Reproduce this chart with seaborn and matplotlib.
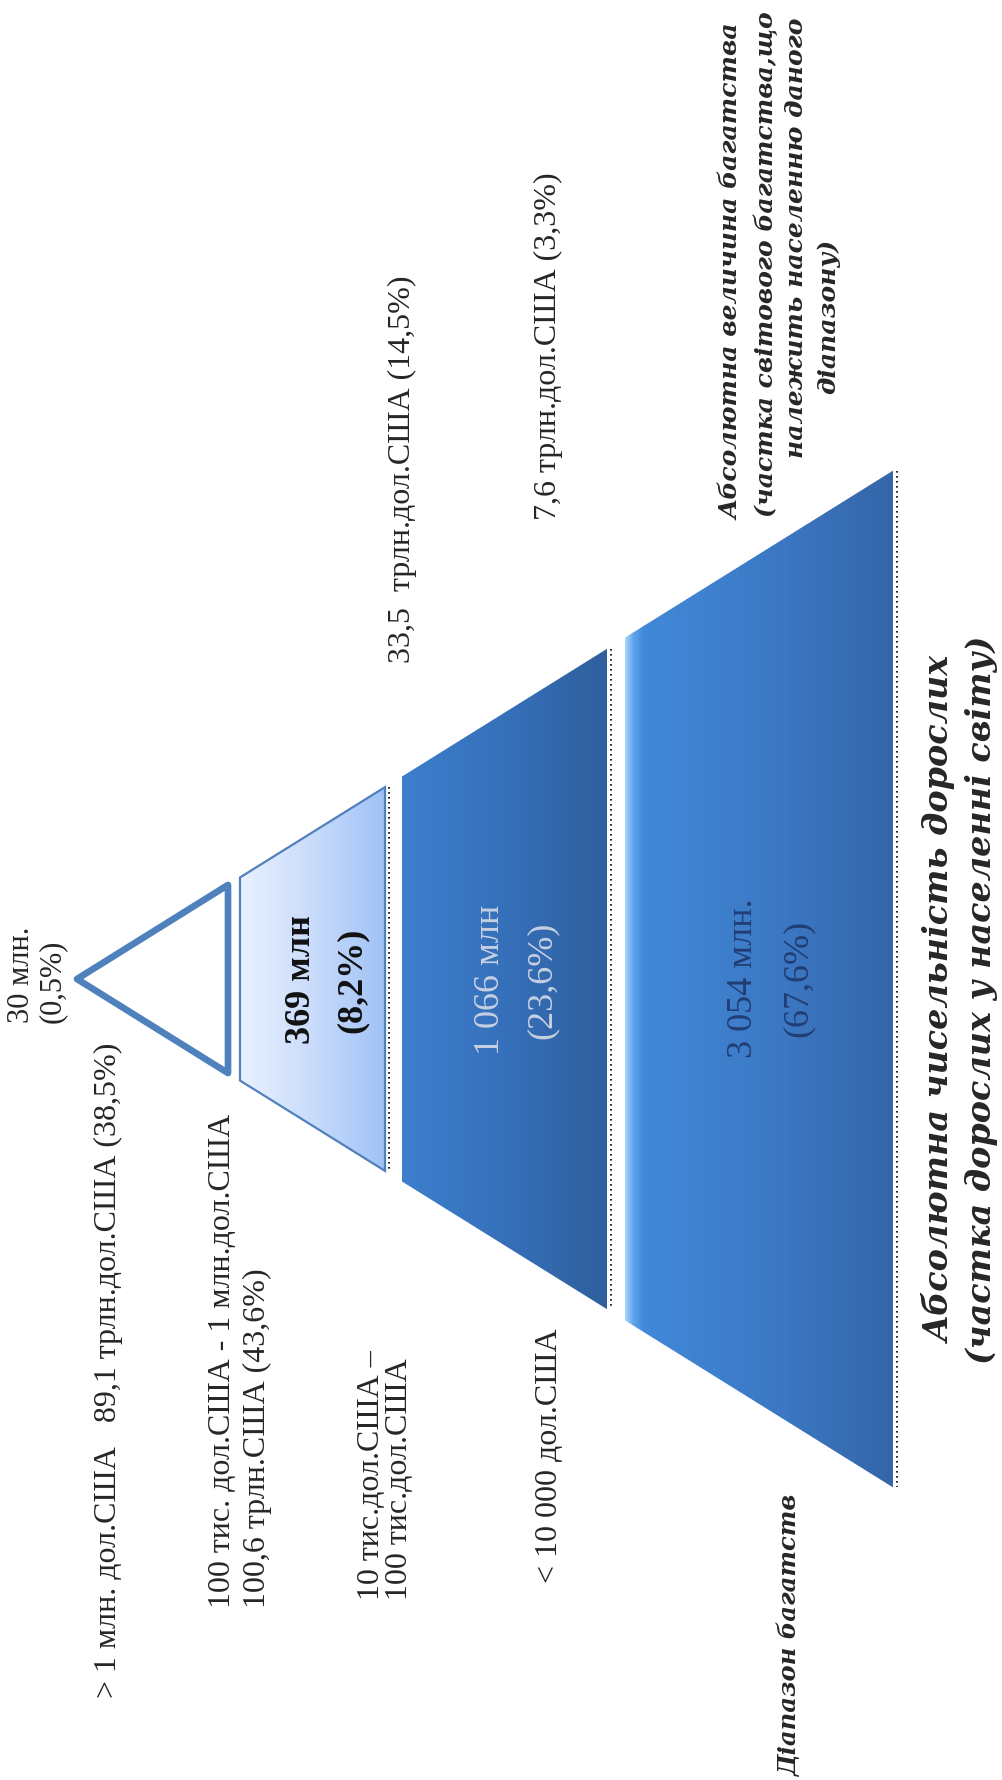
import numpy as np
import matplotlib
matplotlib.use("Agg")
import matplotlib.pyplot as plt
from matplotlib.patches import Polygon
from matplotlib.colors import LinearSegmentedColormap
import seaborn as sns

# ---------------- data ----------------
wealth_bands = ["> 1 млн. дол.США",
                "100 тис. дол.США - 1 млн.дол.США",
                "10 тис.дол.США –\n100 тис.дол.США",
                "< 10 000 дол.США"]
adults_mln = [30, 369, 1066, 3054]
adults_unit = ["млн.", "млн", "млн", "млн."]
adults_share = [0.5, 8.2, 23.6, 67.6]
wealth_trln = [89.1, 100.6, 33.5, 7.6]
wealth_unit = ["трлн.дол.США", "трлн.США", "трлн.дол.США", "трлн.дол.США"]
wealth_share = [38.5, 43.6, 14.5, 3.3]

wealth_title = ["Абсолютна величина багатства",
                "(частка світового багатства,що",
                "належить населенню даного",
                "діапазону)"]
adults_title = ["Абсолютна чисельність дорослих",
                "(частка дорослих у населенні світу)"]
band_title = "Діапазон багатств"


def dec(v):
    return f"{v:.1f}".replace(".", ",")


def num(n):
    return f"{n:,}".replace(",", " ")


adult_lbl = [f"{num(n)} {u}" for n, u in zip(adults_mln, adults_unit)]
adult_pct = [f"({dec(s)}%)" for s in adults_share]
wealth_lbl = [f"{dec(w)} {u} ({dec(s)}%)" for w, u, s in zip(wealth_trln, wealth_unit, wealth_share)]

# ---------------- style / layout ----------------
sns.set_theme(style="white")
plt.rcParams["font.family"] = ["Liberation Serif", "DejaVu Serif"]

W, H = 1003, 1781
fig = plt.figure(figsize=(W / 100, H / 100), dpi=100)
ax = fig.add_axes([0, 0, 1, 1])
ax.set_facecolor("white")

apex_x, center_y, slope = 77, 980, 0.623
tier_x = [(77, 228), (240, 385), (402, 607), (625, 893)]

edge_col = "#4f81bd"
cmaps = [
    None,
    sns.blend_palette(["#eaf1ff", "#c9dcfb", "#a0c2f6"], as_cmap=True),
    sns.blend_palette(["#3d7fce", "#3670ba", "#2f5f9d"], as_cmap=True),
    LinearSegmentedColormap.from_list(
        "t4", [(0.0, "#a9d4fb"), (0.03, "#5ea3ea"), (0.07, "#4189d9"),
               (0.6, "#3b77c2"), (1.0, "#3466a9")]),
]


def verts_for(x0, x1):
    h0 = slope * (x0 - apex_x)
    h1 = slope * (x1 - apex_x)
    return [(x0, center_y - h0), (x1, center_y - h1),
            (x1, center_y + h1), (x0, center_y + h0)]


for i, (x0, x1) in enumerate(tier_x):
    v = verts_for(x0, x1)
    if i == 0:
        tri = [v[0], v[1], v[2]]
        ax.add_patch(Polygon(tri, closed=True, facecolor="white",
                             edgecolor=edge_col, lw=4.8, joinstyle="round", zorder=3))
        continue
    poly = Polygon(v, closed=True, facecolor="none", edgecolor="none", zorder=2)
    ax.add_patch(poly)
    ys = [p[1] for p in v]
    grad = np.linspace(0, 1, 256).reshape(1, -1)
    im = ax.imshow(grad, cmap=cmaps[i], extent=(x0, x1, max(ys), min(ys)),
                   aspect="auto", interpolation="bilinear", zorder=2)
    im.set_clip_path(poly)
    if i == 1:
        ax.add_patch(Polygon(v, closed=True, facecolor="none",
                             edgecolor=edge_col, lw=1.6, zorder=3))
    # dotted rim on the right edge
    ax.plot([x1 + 4, x1 + 4], [v[1][1], v[2][1]], color="black",
            lw=1.2, ls=(0, (1, 2)), zorder=3)

ax.set_xlim(0, W)
ax.set_ylim(H, 0)
ax.axis("off")

# ---------------- text ----------------
LBL = 23


def rtext(x, y, s, ha="left", **kw):
    ax.text(x, y, s, rotation=90, rotation_mode="anchor", ha=ha, va="center",
            zorder=5, **kw)


# outside labels
rtext(22, 1023, adult_lbl[0], fontsize=LBL - 1)
rtext(52, 1023, adult_pct[0], fontsize=LBL - 1)
rtext(108, 1698, f"{wealth_bands[0]}   {wealth_lbl[0]}", fontsize=LBL)
rtext(223, 1608, wealth_bands[1], fontsize=LBL)
rtext(257, 1608, wealth_lbl[1], fontsize=LBL)
b2a, b2b = wealth_bands[2].split("\n")
rtext(372, 1600, b2a, fontsize=LBL)
rtext(400, 1600, b2b, fontsize=LBL)
rtext(402, 663, wealth_lbl[2].replace(" ", "  ", 1), fontsize=LBL)
rtext(550, 1583, wealth_bands[3], fontsize=LBL)
rtext(548, 520, wealth_lbl[3], fontsize=LBL)

# labels inside tiers
SEG = 26
rtext(302, 980, adult_lbl[1], ha="center", fontsize=SEG, fontweight="bold", color="#111111")
rtext(352, 980, adult_pct[1], ha="center", fontsize=SEG, fontweight="bold", color="#111111")
rtext(491, 980, adult_lbl[2], ha="center", fontsize=SEG, color="#c6d0e2")
rtext(542, 980, adult_pct[2], ha="center", fontsize=SEG, color="#c6d0e2")
rtext(744, 978, adult_lbl[3], ha="center", fontsize=SEG, color="#213d74")
rtext(798, 978, adult_pct[3], ha="center", fontsize=SEG, color="#213d74")

# headings
HF = dict(family=["DejaVu Serif"], fontweight="bold", fontstyle="italic")
for s, x, cy in zip(wealth_title, [732, 766, 796, 828], [272, 264, 238, 316]):
    rtext(x, cy, s, ha="center", fontsize=18, **HF)
rtext(790, 1776, band_title, fontsize=17.5, **HF)
for s, x in zip(adults_title, [940, 982]):
    rtext(x, 1000, s, ha="center", fontsize=24, **HF)

fig.savefig("out.png", dpi=100, facecolor="white")
